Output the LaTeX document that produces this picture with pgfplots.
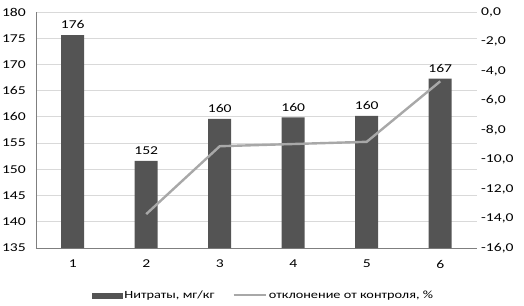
\documentclass[border=0pt]{standalone}
\usepackage{fontspec}
\setmainfont{Carlito}[FakeStretch=1.3]
\usepackage{pgfplots}
\pgfplotsset{compat=1.18}
\definecolor{barc}{HTML}{545454}
\definecolor{linec}{HTML}{A8A8A8}
\definecolor{gridc}{HTML}{D9D9D9}
\definecolor{axc}{HTML}{7F7F7F}
\begin{document}
\fontsize{12}{14}\selectfont
\begin{tikzpicture}
\begin{axis}[
  scale only axis, width=441pt, height=236pt,
  xmin=0.5, xmax=6.5, ymin=135, ymax=180,
  xtick={1,2,3,4,5,6}, ytick={135,140,...,180},
  axis y line*=left, axis x line*=bottom,
  axis line style={draw=axc, line width=0.8pt},
  ymajorgrids, grid style={draw=gridc, line width=0.8pt},
  tick style={draw=none},
  tick label style={font=\fontsize{12}{14}\selectfont},
  /pgf/number format/assume math mode=true,
  xticklabel style={yshift=-8pt},
  yticklabel style={xshift=-6pt},
  ]
\addplot[ybar, bar width=23pt, fill=barc, draw=none,
  nodes near coords={\pgfmathprintnumber[fixed,precision=0]{\pgfplotspointmeta}},
  nodes near coords style={font=\fontsize{12}{14}\selectfont, color=black, yshift=2pt}]
coordinates {(1,175.6) (2,151.6) (3,159.6) (4,159.9) (5,160.2) (6,167.3)};
\end{axis}
\begin{axis}[
  scale only axis, width=441pt, height=236pt,
  xmin=0.5, xmax=6.5, ymin=-16, ymax=0,
  axis y line*=right, axis x line=none,
  y axis line style={draw=none},
  ytick={-16,-14,...,0},
  tick style={draw=none},
  yticklabel style={font=\fontsize{12}{14}\selectfont, xshift=0pt},
  /pgf/number format/assume math mode=true,
  yticklabel={\pgfmathprintnumber[fixed,fixed zerofill,precision=1,use comma]{\tick}},
  legend style={at={(0.516,-0.2)}, anchor=center, draw=none, legend columns=2,
    font=\fontsize{11}{13}\selectfont, inner xsep=0pt,
    /tikz/every even column/.append style={column sep=16pt}},
  legend image code/.code={},
  ]
\addlegendimage{legend image code/.code={\fill[barc] (0pt,-2.5pt) rectangle (30pt,2.5pt);}}
\addlegendentry{Нитраты, мг/кг}
\addlegendimage{legend image code/.code={\draw[linec, line width=2.4pt] (0pt,0pt) -- (32pt,0pt);}}
\addlegendentry{отклонение от контроля, \%}
\addplot[linec, line width=2.4pt, mark=none, forget plot]
coordinates {(2,-13.7) (3,-9.1) (4,-8.95) (5,-8.8) (6,-4.7)};
\end{axis}
\pgfresetboundingbox
\path[use as bounding box] (-36pt,-57pt) rectangle (488pt,248pt);
\end{tikzpicture}
\end{document}
